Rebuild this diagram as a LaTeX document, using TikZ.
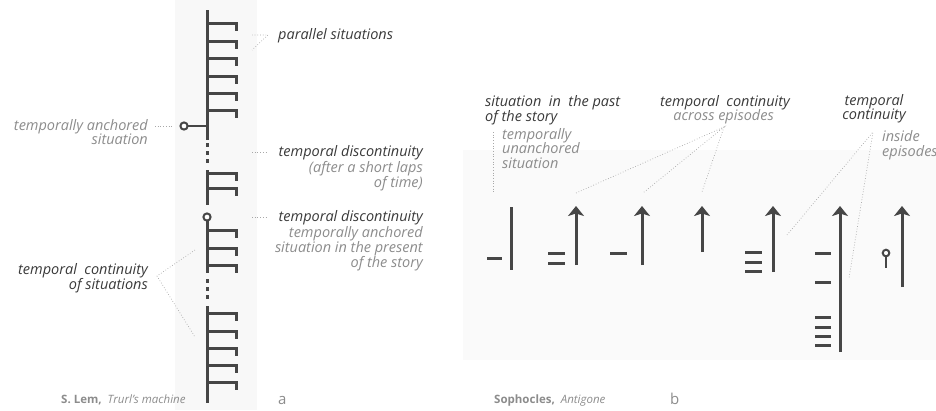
\documentclass[tikz,border=0pt]{standalone}
\usepackage{fontspec}
\setmainfont{Open Sans}
\usepackage{tikz}
\usetikzlibrary{arrows.meta}
\definecolor{Ink}{HTML}{464646}
\definecolor{Title}{HTML}{3A3A3A}
\definecolor{Soft}{HTML}{8C8C8C}
\definecolor{Guide}{HTML}{A8A8A8}
\definecolor{Shade}{HTML}{F8F8F8}
\definecolor{ShadeB}{HTML}{FAFAFA}
\tikzset{
  ladder/.style={draw=Ink, line width=3pt},
  timearrow/.style={-{Stealth[length=10pt, width=16pt, inset=2.5pt]}, draw=Ink, line width=3pt},
  leader/.style={draw=Guide, line width=0.7pt, dotted},
  tag/.style={inner sep=0pt, color=Title, font=\itshape\fontsize{14.5}{15}\selectfont},
  note/.style={inner sep=0pt, color=Soft, font=\itshape\fontsize{14.5}{15}\selectfont},
  source/.style={inner sep=0pt, color=Soft, font=\fontsize{11.5}{13}\selectfont},
  panel/.style={inner sep=0pt, color=Soft, font=\fontsize{15}{16}\selectfont},
  anchorpin/.style={draw=Ink, line width=2pt, fill=white},
}
\begin{document}
\begin{tikzpicture}[x=1pt, y=-1pt]
  \useasboundingbox (0,0) rectangle (936,410);
  % faint panel backgrounds
  \fill[Shade] (175,0) rectangle (257,410);
  \fill[ShadeB] (463,150) rectangle (936,360);

  % ---------- panel a: ladder ----------
  \draw[ladder] (207,10) -- (207,140);
  \draw[ladder] (207,170) -- (207,205);
  \draw[ladder] (207,221) -- (207,273);
  \draw[ladder] (207,306) -- (207,403);
  \foreach \y in {143,151,159, 279,287,295}
    \draw[ladder] (207,\y) -- (207,\y+4);
  \foreach \y in {23,41,58,76,93,110, 173,188, 230,248,265, 313,331,348,365,382}
    \draw[ladder] (207,\y) -- (236,\y) -- (236,\y+8);

  % anchored situations
  \draw[ladder, line width=2.5pt] (188,126) -- (207,126);
  \draw[anchorpin] (184,126) circle[radius=3.6];
  \draw[anchorpin] (207,217) circle[radius=3.6];

  % labels a
  \node[tag, anchor=base west] (parallel) at (278,39) {parallel situations};
  \node[tag, anchor=base east] (disc1) at (423,156) {temporal discontinuity};
  \node[note, anchor=base east] (disc1a) at (423,172) {(after a short laps};
  \node[note, anchor=base east] (disc1b) at (423,187) {of time)};
  \node[tag, anchor=base east] (disc2) at (423,221) {temporal discontinuity};
  \node[note, anchor=base east] (disc2a) at (423,237) {temporally anchored};
  \node[note, anchor=base east] (disc2b) at (423,252) {situation in the present};
  \node[note, anchor=base east] (disc2c) at (423,267) {of the story};
  \node[note, anchor=base east] (anch1) at (148,130) {temporally anchored};
  \node[note, anchor=base east] (anch2) at (148,144) {situation};
  \node[tag, anchor=base east] (cont1) at (148,274) {temporal\ \ continuity};
  \node[tag, anchor=base east] (cont2) at (148,289) {of situations};
  \node[source, anchor=base west] (lem) at (61,403) {\textbf{S. Lem,}\ \ \textit{Trurl's machine}};
  \node[panel, anchor=base west] (pa) at (278,404) {a};

  % leaders a
  \coordinate (par1) at (252,35);
  \coordinate (par2) at (268,35);
  \coordinate (par3) at (252,50);
  \draw[leader] (par1) -- (par2) -- (par3);
  \coordinate (dis1) at (252,152);
  \draw[leader] (dis1) -- ++(15,0);
  \coordinate (dis2) at (252,217);
  \draw[leader] (dis2) -- ++(15,0);
  \coordinate (anc) at (155,126);
  \draw[leader] (anc) -- ++(17,0);
  \coordinate (con) at (157,276);
  \coordinate (conUp) at (195,250);
  \coordinate (conDown) at (195,337);
  \draw[leader] (conUp) -- (con) -- (conDown);

  % ---------- panel b: episodes ----------
  \draw[ladder] (487,258) -- (502,258);
  \draw[ladder] (511,207) -- (511,270);

  \foreach \y in {253,263}
    \draw[ladder] (548,\y) -- (565,\y);
  \draw[timearrow] (576,265) -- (576,206);

  \draw[ladder] (610,253) -- (627,253);
  \draw[timearrow] (642,265) -- (642,206);

  \draw[timearrow] (702,252) -- (702,206);

  \foreach \y in {252,262,271}
    \draw[ladder] (745,\y) -- (762,\y);
  \draw[timearrow] (773,272) -- (773,206);

  \foreach \y in {253,282,317,327,336,345}
    \draw[ladder] (815,\y) -- (831,\y);
  \draw[timearrow] (840,352) -- (840,206);

  \draw[ladder, line width=2.5pt] (886,257) -- (886,268);
  \draw[anchorpin] (886,253) circle[radius=3.3];
  \draw[timearrow] (902,287) -- (902,206);

  % labels b
  \node[tag, anchor=base west] (past1) at (485,106) {situation\ \ in\ \ the past};
  \node[tag, anchor=base west] (past2) at (485,121) {of the story};
  \node[note, anchor=base west] (un1) at (502,139) {temporally};
  \node[note, anchor=base west] (un2) at (502,153) {unanchored};
  \node[note, anchor=base west] (un3) at (502,168) {situation};
  \node[tag, anchor=base east] (across1) at (790,106) {temporal\ \ continuity};
  \node[note, anchor=base east] (across2) at (774,120) {across episodes};
  \node[tag, anchor=base] (ins1) at (874,105) {temporal};
  \node[tag, anchor=base] (ins2) at (874,119) {continuity};
  \node[note, anchor=base west] (ins3) at (882,141) {inside};
  \node[note, anchor=base west] (ins4) at (882,156) {episodes};
  \node[source, anchor=base west] (soph) at (494,403) {\textbf{Sophocles,}\ \ \textit{Antigone}};
  \node[panel, anchor=base west] (pb) at (670,404) {b};

  % leaders b
  \coordinate (unTop) at (493,132);
  \coordinate (unBot) at (493,193);
  \draw[leader] (unTop) -- (unBot);
  \coordinate (acr) at (724,127);
  \coordinate (acrA) at (576,193);
  \coordinate (acrB) at (643,193);
  \coordinate (acrC) at (702,192);
  \draw[leader] (acrA) -- (acr) -- (acrB);
  \draw[leader] (acr) -- (acrC);
  \coordinate (ins) at (873,132);
  \coordinate (insA) at (787,235);
  \coordinate (insB) at (849,278);
  \draw[leader] (insA) -- (ins) -- (insB);
\end{tikzpicture}
\end{document}
